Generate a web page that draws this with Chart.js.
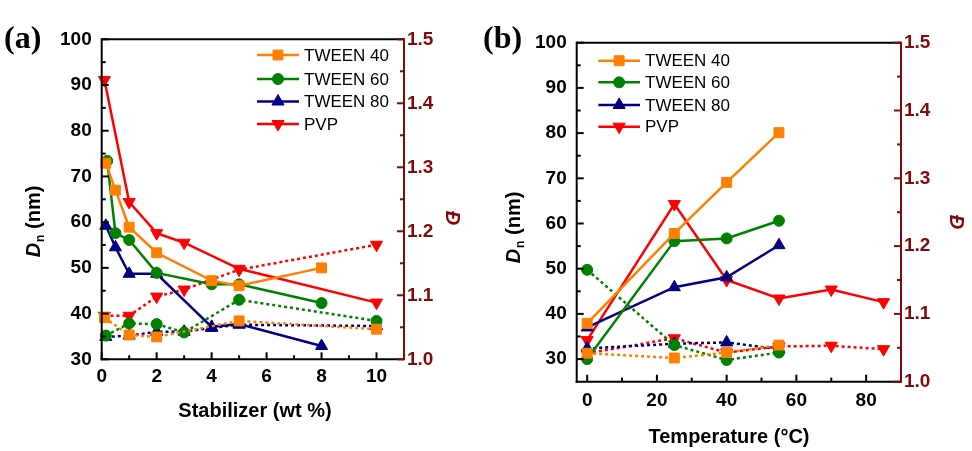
<!DOCTYPE html>
<html>
<head>
<meta charset="utf-8">
<script src="https://cdn.jsdelivr.net/npm/chart.js@4.4.0/dist/chart.umd.min.js"></script>
<style>
html, body { margin: 0; padding: 0; background: #fff; }
#wrap { position: relative; width: 972px; height: 451px; overflow: hidden; }
canvas { position: absolute; top: 0; }
#ca { left: 0; }
#cb { left: 470px; }
</style>
</head>
<body>
<div id="wrap">
  <canvas id="ca" width="470" height="451"></canvas>
  <canvas id="cb" width="502" height="451"></canvas>
</div>
<script>
// ---- panel (a): Dn and dispersity vs stabilizer (wt %) ----
var xT40a = [0.15, 0.5, 1, 2, 4, 5, 8];
var dnT40a = [72.9, 67.0, 58.9, 53.3, 47.2, 46.1, 50.0];
var xT40aD = [0.1, 1, 2, 5, 10];
var dT40a = [1.065, 1.038, 1.035, 1.060, 1.047];

var xT60a = [0.2, 0.5, 1, 2, 4, 5, 8];
var dnT60a = [73.4, 57.6, 56.1, 48.9, 46.4, 46.4, 42.3];
var xT60aD = [0.15, 1, 2, 3, 5, 10];
var dT60a = [1.037, 1.056, 1.055, 1.042, 1.093, 1.060];

var xT80a = [0.15, 0.5, 1, 2, 4, 5, 8];
var dnT80a = [59.2, 54.5, 48.7, 48.7, 37.1, 37.7, 32.9];
var xT80aD = [0.15, 1, 2, 3, 4, 5, 10];
var dT80a = [1.035, 1.037, 1.043, 1.043, 1.049, 1.054, 1.052];

var xPVPa = [0.1, 1, 2, 3, 5, 10];
var dnPVPa = [91.1, 64.4, 57.6, 55.5, 49.8, 42.4];
var dPVPa = [1.068, 1.068, 1.098, 1.109, 1.140, 1.179];

// ---- panel (b): Dn and dispersity vs temperature ----
var tempT = [0, 25, 40, 55];
var dnT40b = [37.9, 57.8, 69.1, 80.1];
var dT40b = [1.042, 1.035, 1.043, 1.054];
var dnT60b = [30.0, 56.1, 56.7, 60.6];
var dT60b = [1.165, 1.054, 1.032, 1.043];
var dnT80b = [37.0, 45.9, 48.1, 55.2];
var dT80b = [1.049, 1.056, 1.058, 1.048];
var tempPVP = [0, 25, 40, 55, 70, 85];
var dnPVPb = [34.2, 64.3, 47.5, 43.4, 45.4, 42.6];
var dPVPb = [1.042, 1.064, 1.043, 1.052, 1.053, 1.048];

// ticks
var xTicksA = [0, 2, 4, 6, 8, 10];
var xMinorA = [1, 3, 5, 7, 9];
var xTicksB = [0, 20, 40, 60, 80];
var xMinorB = [10, 30, 50, 70];
var dnTicks = [30, 40, 50, 60, 70, 80, 90, 100];
var dnMinor = [35, 45, 55, 65, 75, 85, 95];
var dTicks = [1.0, 1.1, 1.2, 1.3, 1.4, 1.5];
var dMinor = [1.05, 1.15, 1.25, 1.35, 1.45];

var FONT = "'Liberation Sans', Arial, sans-serif";
var DARKRED = '#820a0a';

var series = [
  {name: 'TWEEN 40', color: '#ff8000', shape: 'rect', r: 7, rot: 0},
  {name: 'TWEEN 60', color: '#008000', shape: 'circle', r: 5.5, rot: 0},
  {name: 'TWEEN 80', color: '#000080', shape: 'triangle', r: 7, rot: 0},
  {name: 'PVP', color: '#ff0000', shape: 'triangle', r: 7, rot: 180}
];

function pts(xs, ys) {
  return xs.map(function (x, i) { return {x: x, y: ys[i]}; });
}

function makeSets(dn, disp) {
  var sets = [];
  series.forEach(function (s, i) {
    var base = {
      borderColor: s.color, backgroundColor: s.color, borderWidth: 2.5,
      pointStyle: s.shape, pointRadius: s.r, pointRotation: s.rot,
      pointBorderWidth: 1, pointHoverRadius: s.r, clip: false
    };
    sets.push(Object.assign({label: s.name, data: dn[i], yAxisID: 'y'}, base));
    sets.push(Object.assign({label: s.name + ' D', data: disp[i], yAxisID: 'y1', borderDash: [3, 3]}, base));
  });
  return sets;
}

var decor = {
  id: 'decor',
  afterDraw: function (chart, args, o) {
    var ctx = chart.ctx, a = chart.chartArea;
    var sx = chart.scales.x, sy = chart.scales.y, sr = chart.scales.y1;
    ctx.save();
    ctx.lineWidth = 2;
    ctx.lineCap = 'butt';

    function line(x1, y1, x2, y2, c) {
      ctx.strokeStyle = c;
      ctx.beginPath(); ctx.moveTo(x1, y1); ctx.lineTo(x2, y2); ctx.stroke();
    }
    // frame
    line(a.left, a.top, a.right, a.top, '#000');
    line(a.left, a.top - 1, a.left, a.bottom + 1, '#000');
    line(a.left - 1, a.bottom, a.right, a.bottom, '#000');
    line(a.right, a.top - 1, a.right, a.bottom + 1, DARKRED);

    // inward ticks
    o.xMaj.forEach(function (v) { var p = sx.getPixelForValue(v); line(p, a.bottom, p, a.bottom - 7, '#000'); });
    o.xMin.forEach(function (v) { var p = sx.getPixelForValue(v); line(p, a.bottom, p, a.bottom - 4, '#000'); });
    dnTicks.forEach(function (v) { var p = sy.getPixelForValue(v); line(a.left, p, a.left + 7, p, '#000'); });
    dnMinor.forEach(function (v) { var p = sy.getPixelForValue(v); line(a.left, p, a.left + 4, p, '#000'); });
    dTicks.forEach(function (v) { var p = sr.getPixelForValue(v); line(a.right, p, a.right - 7, p, DARKRED); });
    dMinor.forEach(function (v) { var p = sr.getPixelForValue(v); line(a.right, p, a.right - 4, p, DARKRED); });

    // legend
    var lg = o.legend;
    series.forEach(function (s, i) {
      var y = lg.ys[i];
      ctx.lineWidth = 2.5;
      line(lg.x0, y, lg.x1, y, s.color);
      ctx.fillStyle = s.color;
      ctx.strokeStyle = s.color;
      ctx.lineWidth = 1;
      Chart.helpers.drawPoint(ctx, {pointStyle: s.shape, rotation: s.rot, radius: s.r, borderWidth: 1}, (lg.x0 + lg.x1) / 2, y);
      ctx.fillStyle = '#000';
      ctx.font = '17px ' + FONT;
      ctx.textAlign = 'left';
      ctx.textBaseline = 'middle';
      ctx.fillText(s.name, lg.tx, y + 1);
    });

    // panel label
    ctx.fillStyle = '#000';
    ctx.font = "bold 32px 'Liberation Serif', 'Times New Roman', serif";
    ctx.textAlign = 'left';
    ctx.textBaseline = 'middle';
    ctx.fillText(o.label.text, o.label.x, o.label.y);

    // x title
    ctx.font = 'bold 20px ' + FONT;
    ctx.textAlign = 'center';
    ctx.fillText(o.xTitle.text, o.xTitle.x, o.xTitle.y);

    // left title: D_n (nm)
    ctx.save();
    ctx.translate(o.yTitle.x, o.yTitle.y);
    ctx.rotate(-Math.PI / 2);
    var fD = 'italic bold 20px ' + FONT, fn = 'bold 12px ' + FONT, fr = 'bold 20px ' + FONT;
    ctx.font = fD; var wD = ctx.measureText('D').width;
    ctx.font = fn; var wn = ctx.measureText('n').width;
    ctx.font = fr; var wr = ctx.measureText(' (nm)').width;
    var x0 = -(wD + wn + wr) / 2;
    ctx.textAlign = 'left';
    ctx.font = fD; ctx.fillText('D', x0, 0);
    ctx.font = fn; ctx.fillText('n', x0 + wD + 1, 7);
    ctx.font = fr; ctx.fillText(' (nm)', x0 + wD + wn + 1, 0);
    ctx.restore();

    // right title: dispersity
    ctx.save();
    ctx.translate(o.rTitle.x, o.rTitle.y);
    ctx.rotate(Math.PI / 2);
    ctx.fillStyle = DARKRED;
    ctx.font = 'italic bold 20px ' + FONT;
    ctx.textAlign = 'center';
    ctx.fillText('\u0110', 0, 0);
    ctx.restore();

    ctx.restore();
  }
};

function fixedWidth(w) { return function (s) { s.width = w; }; }

function makeChart(id, sets, xr, xMaj, geo) {
  var tickFont = {family: FONT, size: 19, weight: 'bold'};
  var noGrid = {display: false, drawTicks: false};
  return new Chart(document.getElementById(id), {
    type: 'line',
    data: {datasets: sets},
    plugins: [decor],
    options: {
      responsive: false,
      animation: false,
      layout: {padding: {top: geo.top, left: 0, right: 0, bottom: 0}},
      plugins: {legend: {display: false}, tooltip: {enabled: false}, decor: geo.decor},
      scales: {
        x: {
          type: 'linear', min: xr[0], max: xr[1],
          grid: noGrid, border: {display: false},
          afterBuildTicks: function (s) { s.ticks = xMaj.map(function (v) { return {value: v}; }); },
          afterFit: function (s) { s.height = geo.xh; },
          ticks: {color: '#000', font: tickFont, padding: geo.xpad, autoSkip: false, maxRotation: 0}
        },
        y: {
          type: 'linear', position: 'left', min: geo.ymin, max: 100,
          grid: noGrid, border: {display: false},
          afterBuildTicks: function (s) { s.ticks = dnTicks.map(function (v) { return {value: v}; }); },
          afterFit: fixedWidth(geo.lw),
          ticks: {color: '#000', font: tickFont, padding: 10}
        },
        y1: {
          type: 'linear', position: 'right', min: 1.0, max: 1.5,
          grid: noGrid, border: {display: false},
          afterBuildTicks: function (s) { s.ticks = dTicks.map(function (v) { return {value: v}; }); },
          afterFit: fixedWidth(geo.rw),
          ticks: {color: DARKRED, font: tickFont, padding: 3, callback: function (v) { return v.toFixed(1); }}
        }
      }
    }
  });
}

makeChart('ca',
  makeSets(
    [pts(xT40a, dnT40a), pts(xT60a, dnT60a), pts(xT80a, dnT80a), pts(xPVPa, dnPVPa)],
    [pts(xT40aD, dT40a), pts(xT60aD, dT60a), pts(xT80aD, dT80a), pts(xPVPa, dPVPa)]),
  [0, 11], xTicksA,
  {top: 39.3, xh: 91.7, lw: 101.7, rw: 66, ymin: 30, xpad: 6,
   decor: {xMaj: xTicksA, xMin: xMinorA,
     legend: {x0: 257, x1: 299, tx: 304, ys: [55, 79, 101.5, 124]},
     label: {text: '(a)', x: 4, y: 40},
     xTitle: {text: 'Stabilizer (wt %)', x: 255, y: 411},
     yTitle: {x: 34, y: 222},
     rTitle: {x: 452, y: 218}}});

makeChart('cb',
  makeSets(
    [pts(tempT, dnT40b), pts(tempT, dnT60b), pts(tempT, dnT80b), pts(tempPVP, dnPVPb)],
    [pts(tempT, dT40b), pts(tempT, dT60b), pts(tempT, dT80b), pts(tempPVP, dPVPb)]),
  [-3, 90], xTicksB,
  {top: 42.7, xh: 69.3, lw: 106.7, rw: 71, ymin: 25, xpad: 8,
   decor: {xMaj: xTicksB, xMin: xMinorB,
     legend: {x0: 128.3, x1: 170, tx: 175, ys: [60.7, 82.3, 105, 126.7]},
     label: {text: '(b)', x: 13, y: 40},
     xTitle: {text: 'Temperature (\u00b0C)', x: 259, y: 437},
     yTitle: {x: 44, y: 228},
     rTitle: {x: 486, y: 222}}});
</script>
</body>
</html>
